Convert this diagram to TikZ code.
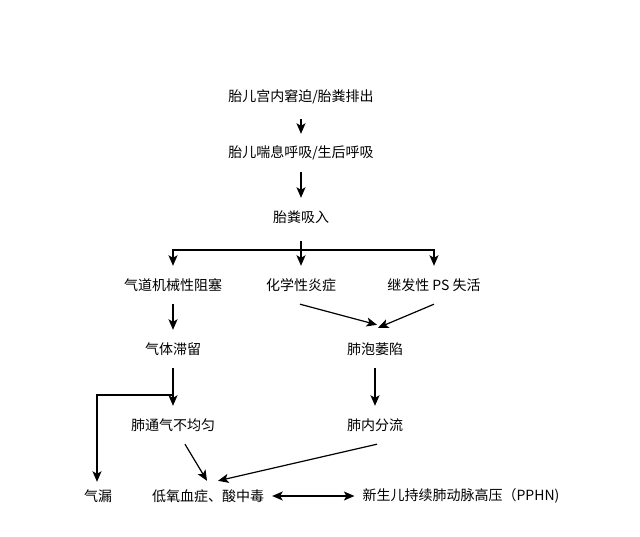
\documentclass[tikz,border=0pt]{standalone}
\usepackage{fontspec}
\setmainfont{Noto Sans CJK SC}
\usetikzlibrary{arrows.meta}
\begin{document}
\begin{tikzpicture}[x=1pt,y=-1pt,
  lbl/.style={inner xsep=8pt,inner ysep=0pt,minimum height=38pt,font=\fontsize{14}{16}\selectfont,text=black},
  arr/.style={line width=1.2pt,-{Stealth[length=10.5pt,width=9pt,inset=2.5pt]}},
  dbl/.style={line width=1.2pt,{Stealth[length=10.5pt,width=9pt,inset=2.5pt]}-{Stealth[length=10.5pt,width=9pt,inset=2.5pt]}}]
\useasboundingbox[fill=white] (0,0) rectangle (640,537);
\node[lbl] (distress) at (301,97) {胎儿宫内窘迫/胎粪排出};
\node[lbl] (gasp) at (301,153) {胎儿喘息呼吸/生后呼吸};
\node[lbl] (meco) at (301,217) {胎粪吸入};
\node[lbl] (airway) at (173,285) {气道机械性阻塞};
\node[lbl] (chem) at (301,285) {化学性炎症};
\node[lbl] (ps) at (434,285) {继发性 PS 失活};
\node[lbl] (trap) at (173,349) {气体滞留};
\node[lbl] (collapse) at (375,349) {肺泡萎陷};
\node[lbl] (uneven) at (173,425) {肺通气不均匀};
\node[lbl] (shunt) at (375,425) {肺内分流};
\node[lbl] (leak) at (98,496) {气漏};
\node[lbl] (hypox) at (208,496) {低氧血症、酸中毒};
\node[lbl] (pphn) at (461,496) {新生儿持续肺动脉高压（PPHN)};
\coordinate (j1) at (301,250);
\coordinate (j2) at (173,395);
\draw[arr] ([yshift=-3pt]distress.south) -- (gasp.north);
\draw[arr] (gasp.south) -- (meco.north);
\draw[arr] ([yshift=-5pt]meco.south) -- (chem.north);
\draw[arr] (j1) -| (airway.north);
\draw[arr] (j1) -| (ps.north);
\draw[arr] (airway.south) -- (trap.north);
\draw[arr] ([xshift=-1pt]chem.south) -- ([xshift=2pt,yshift=5pt]collapse.north);
\draw[arr] (ps.south) -- ([xshift=3pt,yshift=2pt]collapse.north);
\draw[arr] (trap.south) -- (uneven.north);
\draw[arr] (j2) -| ([xshift=-1pt,yshift=-5pt]leak.north);
\draw[arr] (collapse.south) -- (shunt.north);
\draw[arr] ([xshift=12pt]uneven.south) -- ([xshift=-1pt,yshift=-4pt]hypox.north);
\draw[arr] ([xshift=2pt]shunt.south) -- ([xshift=10pt,yshift=-4pt]hypox.north);
\draw[dbl] (hypox.east) -- (pphn.west);
\end{tikzpicture}
\end{document}
